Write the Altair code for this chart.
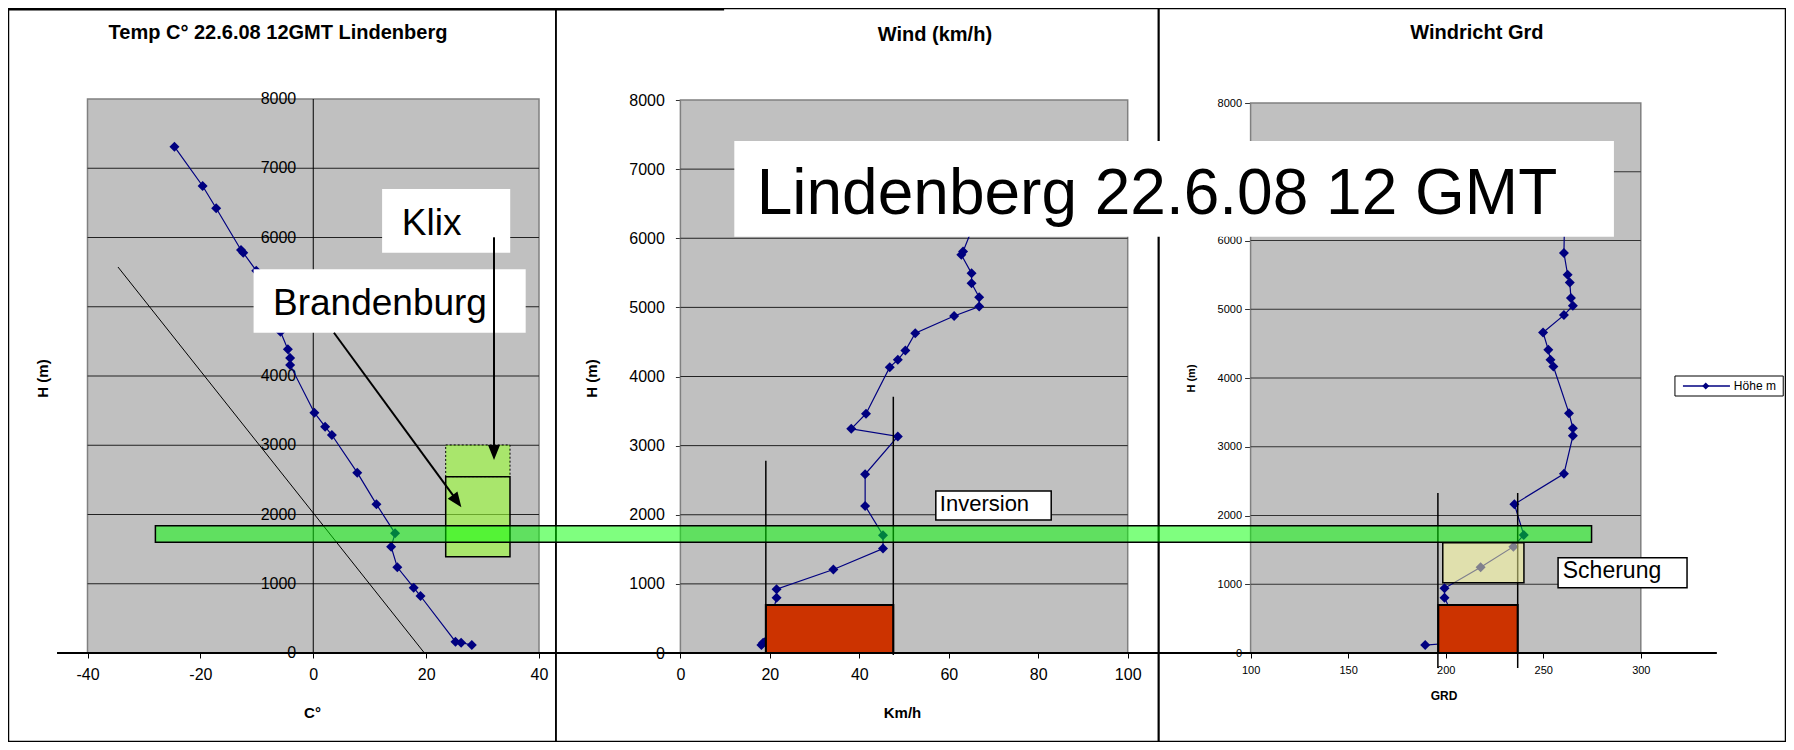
import altair as alt
import pandas as pd

F = "Liberation Sans"
NAVY = "#000080"

# ---------------- data ----------------
temp_h = [7311, 6744, 6422, 5820, 5780, 5520, 4640, 4385, 4260, 4160, 3470, 3268, 3148,
          2604, 2147, 1728, 1535, 1237, 943, 823, 163, 149, 115]
temp_c = [-24.6, -19.6, -17.2, -12.8, -12.4, -10.1, -5.8, -4.5, -4.1, -4.1, 0.2, 2.1, 3.3,
          7.8, 11.2, 14.5, 13.8, 14.9, 17.8, 19.0, 25.2, 26.2, 28.1]

wind_h = [6422, 5810, 5760, 5492, 5348, 5146, 5011, 4876, 4625, 4375, 4241, 4135, 3461, 3244,
          3133, 2585, 2128, 1704, 1512, 1208, 924, 799, 163, 149, 115]
wind_v = [67.0, 63.2, 62.8, 65.1, 65.1, 66.8, 66.8, 61.2, 52.5, 50.3, 48.6, 46.8, 41.5, 38.2,
          48.6, 41.3, 41.3, 45.3, 45.3, 34.2, 21.5, 21.5, 19.0, 18.5, 18.1]

dir_h = [6422, 5818, 5502, 5390, 5163, 5051, 4915, 4662, 4410, 4265, 4167, 3489, 3270, 3159,
         2606, 2164, 1718, 1547, 1247, 941, 805, 163, 149, 115]
dir_d = [261.0, 260.6, 262.5, 263.6, 264.2, 265.2, 260.6, 249.9, 252.6, 253.7, 255.2, 263.2,
         265.2, 265.2, 260.6, 235.2, 240.0, 234.7, 217.9, 199.4, 199.4, 210.0, 205.0, 189.5]

# dry adiabat (temperature, height)
adiabat_c = [19.7, -34.6]
adiabat_h = [0, 5574]

# tick labels
h_ticks = [0, 1000, 2000, 3000, 4000, 5000, 6000, 7000, 8000]
grid_h = [1000, 2000, 3000, 4000, 5000, 6000, 7000]
temp_ticks = [-40, -20, 0, 20, 40]
wind_ticks = [0, 20, 40, 60, 80, 100]
dir_ticks = [100, 150, 200, 250, 300]

# texts
titles = ["Temp C°  22.6.08 12GMT Lindenberg", "Wind (km/h)", "Windricht Grd"]
big_title = "Lindenberg 22.6.08 12 GMT"

# annotation geometry, in data units of the panel it belongs to
P1_FRAME = [-54.0, 43.01, -1278, 9307]
P2_FRAME = [-27.85, 106.99, -1280, 9324]
P3_FRAME = [52.69, 374.17, -1287, 9375]
KLIX_BOX = [12.2, 34.9, 5781, 6700]
KLIX_TXT = [15.7, 6036]
BRB_BOX = [-10.57, 37.64, 4625, 5541]
BRB_TXT = [-7.13, 4881]
KLIX_ARROW = [32.03, 6003, 32.03, 2850]
KLIX_HEAD = [32.03, 2895]
BRB_ARROW = [3.67, 4625, 25.2, 2230]
BRB_HEAD = [25.47, 2192]
KLIX_GREEN = [23.47, 34.86, 2546, 3004]
BRB_GREEN = [23.47, 34.86, 1391, 2546]
BAND = [-27.97, 226.5, 1599, 1838]
BASE = [-45.4, 248.7, 0]
TOPLINE = [-54.0, 72.8, 9294]
RED2 = [19.1, 47.6, 0, 694]
VL2 = [[19.1, 0, 2782], [47.6, -29, 3708]]
INV_BOX = [57.1, 82.9, 1924, 2344]
INV_TXT = [58.0, 2054]
TITLE_BOX = [12.05, 208.7, 6022, 7407]
TITLE_TXT = [17.06, 6347]
RED3 = [196.2, 236.9, 0, 698]
VL3 = [[196.0, -218, 2327], [236.9, -218, 2327]]
SHEAR = [198.5, 240.1, 1022, 1604]
SCH_BOX = [257.6, 323.7, 950, 1386]
SCH_TXT = [260.0, 1087]
LEG_BOX = [317.5, 373.0, 3738, 4029]
LEG_LINE = [321.6, 345.7, 3884]
LEG_PT = [333.3, 3884]
LEG_TXT = [347.7, 3884]
TITLE_POS = [[-6.25, 8953], [56.9, 8940], [216.0, 9018]]

W, H = 1778, 734

XS = {
    1: alt.Scale(domain=[-40, 40], range=[79.5, 531], nice=False, zero=False),
    2: alt.Scale(domain=[0, 100], range=[672.4, 1119.7], nice=False, zero=False),
    3: alt.Scale(domain=[100, 300], range=[1242.6, 1632.8], nice=False, zero=False),
}
YS = {
    1: alt.Scale(domain=[0, 8000], range=[645, 91], nice=False, zero=False),
    2: alt.Scale(domain=[0, 8000], range=[645, 92], nice=False, zero=False),
    3: alt.Scale(domain=[0, 8000], range=[645, 95], nice=False, zero=False),
}


def enc(p, xaxis=None, yaxis=None):
    return dict(x=alt.X("x:Q", scale=XS[p], axis=xaxis),
                y=alt.Y("y:Q", scale=YS[p], axis=yaxis))


def rect(p, b, xaxis=None, yaxis=None, **mk):
    df = pd.DataFrame({"x": [b[0]], "x2": [b[1]], "y": [b[2]], "y2": [b[3]]})
    return alt.Chart(df).mark_rect(**mk).encode(**enc(p, xaxis, yaxis), x2="x2:Q", y2="y2:Q")


def seg(p, x, y, x2, y2, **mk):
    df = pd.DataFrame({"x": [x], "y": [y], "x2": [x2], "y2": [y2]})
    return alt.Chart(df).mark_rule(**mk).encode(**enc(p), x2="x2:Q", y2="y2:Q")


def text(p, pos, s, **mk):
    df = pd.DataFrame({"x": [pos[0]], "y": [pos[1]], "t": [s]})
    return alt.Chart(df).mark_text(font=F, color="black", **mk).encode(**enc(p), text="t:N")


def head(p, pos, angle):
    df = pd.DataFrame({"x": [pos[0]], "y": [pos[1]]})
    return alt.Chart(df).mark_point(shape="M-0.8,-1L0.8,-1L0,1Z", filled=True, color="black",
                                     opacity=1, size=225, angle=angle).encode(**enc(p))


def grid(p, lo, hi, color):
    df = pd.DataFrame({"y": grid_h, "x": [lo] * len(grid_h), "x2": [hi] * len(grid_h)})
    return alt.Chart(df).mark_rule(color=color, strokeWidth=1).encode(**enc(p), x2="x2:Q")


def series(p, xs, hs, size=100):
    df = pd.DataFrame({"i": list(range(len(xs))), "x": xs, "y": hs})
    ln = alt.Chart(df).mark_line(color=NAVY, strokeWidth=1.2).encode(**enc(p), order="i:Q")
    pt = alt.Chart(df).mark_point(shape="diamond", filled=True, size=size, color=NAVY,
                                  opacity=1).encode(**enc(p))
    return [ln, pt]


LBL = "'' + datum.value"


def xaxis(values, offset, fs, pad, title, tx, ty, tfs, dom="black"):
    return alt.Axis(orient="bottom", offset=offset, values=values, grid=False,
                    labelExpr=LBL,
                    domainColor=dom, domainWidth=1, tickColor="black", tickSize=5,
                    labelFont=F, labelFontSize=fs, labelColor="black", labelPadding=pad,
                    labelFlush=False, labelOverlap=False, title=title, titleFont=F,
                    titleFontSize=tfs, titleFontWeight="bold", titleColor="black",
                    titleX=tx, titleY=ty, titleAlign="center", titleBaseline="middle")


def yaxis(offset, fs, ticksize, pad, tx, tfs, dom="black", labels=True):
    return alt.Axis(orient="left", offset=offset, values=h_ticks, grid=False,
                    labelExpr=LBL, labels=labels,
                    domainColor=dom, domainWidth=1, ticks=ticksize > 0, tickSize=ticksize,
                    tickColor="#333333", labelFont=F, labelFontSize=fs, labelColor="black",
                    labelPadding=pad, labelFlush=False, labelOverlap=False, title="H (m)",
                    titleFont=F, titleFontSize=tfs, titleFontWeight="bold", titleColor="black",
                    titleX=tx, titleY=370, titleAngle=270, titleAlign="center",
                    titleBaseline="middle")


layers = []
# panel frames
for p, fr in ((1, P1_FRAME), (2, P2_FRAME), (3, P3_FRAME)):
    layers.append(rect(p, fr, fill="white", fillOpacity=0, stroke="black", strokeWidth=1.5))
layers.append(seg(1, TOPLINE[0], TOPLINE[2], TOPLINE[1], TOPLINE[2], color="black", strokeWidth=2))

# plot areas with axes
layers.append(rect(1, [-40, 40, 0, 8000],
                   xaxis(temp_ticks, -89, 16, 8, "C°", 304, 59, 15),
                   yaxis(-305.25, 15, 0, 16, -271, 15, labels=False),
                   fill="#C0C0C0", stroke="#808080", strokeWidth=1.5))
layers.append(rect(2, [0, 100, 0, 8000],
                   xaxis(wind_ticks, -89, 16, 8, "Km/h", 894, 59, 15),
                   yaxis(-672.4, 16, 5, 11, -89.4, 15, dom="#404040"),
                   fill="#C0C0C0", stroke="#808080", strokeWidth=1.5))
layers.append(rect(3, [100, 300, 0, 8000],
                   xaxis(dir_ticks, -89, 11, 6, "GRD", 1435.6, 42, 12, dom="#808080"),
                   yaxis(-1242.6, 11, 6, 3, -59.6, 11, dom="#404040"),
                   fill="#C0C0C0", stroke="#808080", strokeWidth=1.5))
# gridlines
layers.append(grid(1, -40, 40, "#222222"))
layers.append(grid(2, 0, 100, "#222222"))
layers.append(grid(3, 100, 300, "#333333"))
# y axis line of panel 1 (crossing at 0 °C) and its labels inside the plot area
layers.append(seg(1, 0, 0, 0, 8000, color="black", strokeWidth=1))
ylab = pd.DataFrame({"x": [0] * len(h_ticks), "y": h_ticks, "t": [str(v) for v in h_ticks]})
layers.append(alt.Chart(ylab).mark_text(font=F, fontSize=16, color="black", align="right",
                                        baseline="middle", dx=-17)
              .encode(**enc(1), text="t:N"))

# panel titles
for p, pos, s in zip((1, 2, 3), TITLE_POS, titles):
    layers.append(text(p, pos, s, fontSize=20, fontWeight="bold", align="center", baseline="middle"))

# dry adiabat
adf = pd.DataFrame({"i": [0, 1], "x": adiabat_c, "y": adiabat_h})
layers.append(alt.Chart(adf).mark_line(color="black", strokeWidth=1).encode(**enc(1), order="i:Q"))

# data series
layers += series(1, temp_c, temp_h)
layers += series(2, wind_v, wind_h)
layers += series(3, dir_d, dir_h)

# panel 1 annotations
layers.append(rect(1, KLIX_GREEN, fill="#99FF33", fillOpacity=0.6, stroke="black",
                   strokeWidth=1, strokeDash=[2, 2]))
layers.append(rect(1, BRB_GREEN, fill="#99FF33", fillOpacity=0.6, stroke="black", strokeWidth=1.5))
layers.append(rect(1, KLIX_BOX, fill="white", strokeWidth=0))
layers.append(text(1, KLIX_TXT, "Klix", fontSize=37, align="left", baseline="alphabetic"))
layers.append(rect(1, BRB_BOX, fill="white", strokeWidth=0))
layers.append(text(1, BRB_TXT, "Brandenburg", fontSize=37, align="left", baseline="alphabetic"))
layers.append(seg(1, *KLIX_ARROW, color="black", strokeWidth=2))
layers.append(head(1, KLIX_HEAD, 0))
layers.append(seg(1, *BRB_ARROW, color="black", strokeWidth=2))
layers.append(head(1, BRB_HEAD, 324))

# panel 2 annotations
layers.append(rect(2, RED2, fill="#CC3300", stroke="black", strokeWidth=2))
for v in VL2:
    layers.append(seg(2, v[0], v[1], v[0], v[2], color="black", strokeWidth=1.5))

# panel 3 annotations
layers.append(rect(3, RED3, fill="#CC3300", stroke="black", strokeWidth=2))
for v in VL3:
    layers.append(seg(3, v[0], v[1], v[0], v[2], color="black", strokeWidth=1.5))
layers.append(rect(3, SHEAR, fill="#FFFF99", fillOpacity=0.5, stroke="black", strokeWidth=1.5))

# inversion band across all panels
layers.append(rect(1, BAND, fill="#00FF00", fillOpacity=0.5, stroke="black", strokeWidth=1.5))

# labels
layers.append(rect(2, INV_BOX, fill="white", stroke="black", strokeWidth=1.5))
layers.append(text(2, INV_TXT, "Inversion", fontSize=22, align="left", baseline="alphabetic"))
layers.append(rect(3, SCH_BOX, fill="white", stroke="black", strokeWidth=1.5))
layers.append(text(3, SCH_TXT, "Scherung", fontSize=23, align="left", baseline="alphabetic"))

# legend
layers.append(rect(3, LEG_BOX, fill="white", stroke="black", strokeWidth=1))
layers.append(seg(3, LEG_LINE[0], LEG_LINE[2], LEG_LINE[1], LEG_LINE[2], color=NAVY, strokeWidth=1.5))
ldf = pd.DataFrame({"x": [LEG_PT[0]], "y": [LEG_PT[1]]})
layers.append(alt.Chart(ldf).mark_point(shape="diamond", filled=True, size=50, color=NAVY,
                                        opacity=1).encode(**enc(3)))
layers.append(text(3, LEG_TXT, "Höhe m", fontSize=12, align="left", baseline="middle"))

# big title
layers.append(rect(2, TITLE_BOX, fill="white", strokeWidth=0))
layers.append(text(2, TITLE_TXT, big_title, fontSize=64, align="left", baseline="alphabetic"))

# long base line
layers.append(seg(1, BASE[0], BASE[2], BASE[1], BASE[2], color="black", strokeWidth=2))

chart = (alt.layer(*layers)
         .resolve_scale(x="independent", y="independent")
         .resolve_axis(x="independent", y="independent")
         .properties(width=W, height=H, padding=0, background="white",
                     autosize=alt.AutoSizeParams(type="none"))
         .configure_view(strokeWidth=0))

chart.save("out.html", embed_options={"renderer": "svg", "actions": False})
